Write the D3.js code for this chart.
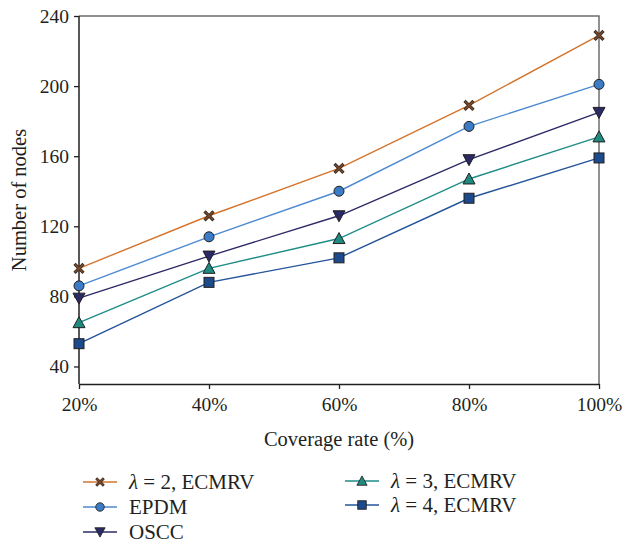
<!DOCTYPE html>
<html>
<head>
<meta charset="utf-8">
<script src="https://cdn.jsdelivr.net/npm/d3@7"></script>
<style>
  html, body { margin: 0; padding: 0; background: #fff; }
  svg { display: block; }
  text { font-family: "Liberation Serif", "DejaVu Serif", serif; fill: #231f20; }
</style>
</head>
<body>
<svg id="chart" width="632" height="545"></svg>
<script>
const categories = ["20%", "40%", "60%", "80%", "100%"];
const yTicks = [40, 80, 120, 160, 200, 240];
const seriesNames = ["λ = 2, ECMRV", "EPDM", "OSCC", "λ = 3, ECMRV", "λ = 4, ECMRV"];
const lambda2 = [96, 126, 153, 189, 229];
const epdm = [86, 114, 140, 177, 201];
const oscc = [79, 103, 126, 158, 185];
const lambda3 = [65, 96, 113, 147, 171];
const lambda4 = [53, 88, 102, 136, 159];

const series = [
  { name: seriesNames[0], lambda: "2", values: lambda2, line: "#d4742c", fill: "#7a4a2a", marker: "x" },
  { name: seriesNames[1], values: epdm, line: "#4d8ad0", fill: "#3a7cc6", marker: "circle" },
  { name: seriesNames[2], values: oscc, line: "#2c2a66", fill: "#2a2a66", marker: "tdown" },
  { name: seriesNames[3], lambda: "3", values: lambda3, line: "#1f8c88", fill: "#1e8a80", marker: "tup" },
  { name: seriesNames[4], lambda: "4", values: lambda4, line: "#24549a", fill: "#1d4a8a", marker: "square" }
];

const svg = d3.select("#chart");
const m = { left: 79, right: 599, top: 16, bottom: 384 };

const x = d3.scalePoint().domain(categories).range([m.left, m.right]);
const y = d3.scaleLinear().domain([30, 240]).range([m.bottom, m.top]);

// frame (top & right, gray)
svg.append("path")
  .attr("d", `M${m.left},${m.top}H${m.right}V${m.bottom}`)
  .attr("fill", "none").attr("stroke", "#6d6e70").attr("stroke-width", 1.5);

// axes
const yAxis = svg.append("g").attr("transform", `translate(${m.left},0)`)
  .call(d3.axisLeft(y).tickValues(yTicks).tickSize(5).tickSizeOuter(0).tickPadding(5));
const xAxis = svg.append("g").attr("transform", `translate(0,${m.bottom})`)
  .call(d3.axisBottom(x).tickSize(5).tickSizeOuter(0).tickPadding(8));
[yAxis, xAxis].forEach(g => {
  g.select(".domain").attr("stroke", "#231f20").attr("stroke-width", 1.5);
  g.selectAll(".tick line").attr("stroke", "#231f20").attr("stroke-width", 1.3);
  g.selectAll("text").style("font-size", "19.5px").style("font-family", '"Liberation Serif", serif').attr("fill", "#231f20");
});
yAxis.select(".domain").attr("d", `M0,${m.top}V${m.bottom}`);

// axis labels
svg.append("text").attr("x", (m.left + m.right) / 2).attr("y", 446)
  .attr("text-anchor", "middle").style("font-size", "20.5px").text("Coverage rate (%)");
svg.append("text").attr("transform", `translate(26,${(m.top + m.bottom) / 2}) rotate(-90)`)
  .attr("text-anchor", "middle").style("font-size", "20.5px").text("Number of nodes");

function drawMarker(g, type, s) {
  const stroke = "#231f20";
  if (type === "x") {
    g.append("path").attr("d", "M-4.5,-4.5L4.5,4.5M-4.5,4.5L4.5,-4.5")
      .attr("stroke", "#3a2a20").attr("stroke-width", 3.2);
    g.append("path").attr("d", "M-4,-4L4,4M-4,4L4,-4")
      .attr("stroke", s.fill).attr("stroke-width", 1.6);
  } else if (type === "circle") {
    g.append("circle").attr("r", 5).attr("fill", s.fill).attr("stroke", stroke).attr("stroke-width", 1);
  } else if (type === "tdown") {
    g.append("path").attr("d", "M-6,-5L6,-5L0,6Z").attr("fill", s.fill).attr("stroke", stroke).attr("stroke-width", 1);
  } else if (type === "tup") {
    g.append("path").attr("d", "M-6,5L6,5L0,-6Z").attr("fill", s.fill).attr("stroke", stroke).attr("stroke-width", 1);
  } else if (type === "square") {
    g.append("rect").attr("x", -5).attr("y", -5).attr("width", 10).attr("height", 10)
      .attr("fill", s.fill).attr("stroke", stroke).attr("stroke-width", 1);
  }
}

const line = d3.line().x((d, i) => x(categories[i])).y(d => y(d));
series.forEach(s => {
  svg.append("path").datum(s.values).attr("d", line)
    .attr("fill", "none").attr("stroke", s.line).attr("stroke-width", 1.4);
});
series.forEach(s => {
  s.values.forEach((v, i) => {
    const g = svg.append("g").attr("transform", `translate(${x(categories[i])},${y(v)})`);
    drawMarker(g, s.marker, s);
  });
});

// legend
const legendPos = [
  { x: 83, y: 482 }, { x: 83, y: 507 }, { x: 83, y: 532 },
  { x: 345, y: 481 }, { x: 345, y: 505 }
];
series.forEach((s, i) => {
  const p = legendPos[i];
  const g = svg.append("g").attr("transform", `translate(${p.x},${p.y})`);
  g.append("line").attr("x1", 0).attr("x2", 34).attr("y1", 0).attr("y2", 0)
    .attr("stroke", s.line).attr("stroke-width", 1.4);
  const mg = g.append("g").attr("transform", "translate(17,0) scale(0.85)");
  drawMarker(mg, s.marker, s);
  const t = g.append("text").attr("x", 46).attr("y", 7).style("font-size", "21px");
  if (s.lambda) {
    t.append("tspan").style("font-style", "italic").text("λ");
    t.append("tspan").text(" = " + s.lambda + ", ECMRV");
  } else {
    t.text(s.name);
  }
});
</script>
</body>
</html>
